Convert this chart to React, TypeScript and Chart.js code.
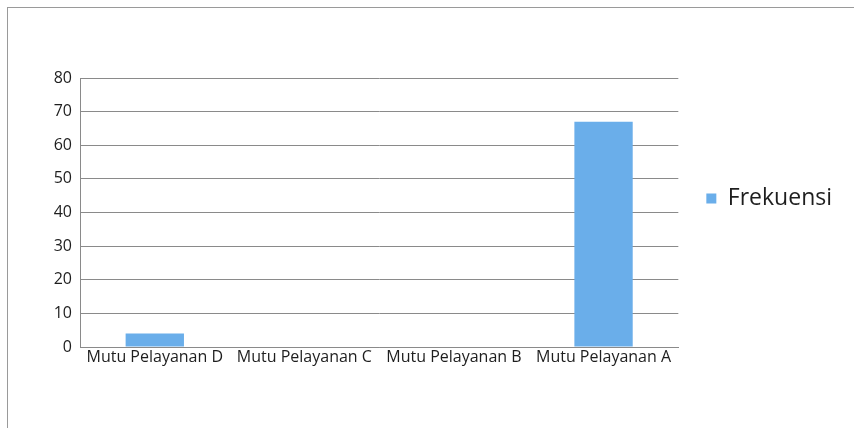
import React, { useEffect, useRef } from "react";
import { Chart, registerables } from "chart.js";

Chart.register(...registerables);

const categories = ["Mutu Pelayanan D", "Mutu Pelayanan C", "Mutu Pelayanan B", "Mutu Pelayanan A"];
const frekuensi = [4, 0, 0, 67];
const seriesName = "Frekuensi";
const yMin = 0;
const yMax = 80;
const yStep = 10;

const FONT = "'Open Sans', 'Noto Sans', sans-serif";

const legendShift = {
  id: "legendShift",
  afterLayout(chart: any) {
    const lg = chart.legend;
    if (lg) {
      lg.top -= 24;
      lg.bottom -= 24;
    }
  },
};

export default function App() {
  const ref = useRef<HTMLCanvasElement | null>(null);

  useEffect(() => {
    document.body.style.margin = "0";
    const canvas = ref.current;
    if (!canvas) return;
    const chart = new Chart(canvas, {
      type: "bar",
      data: {
        labels: categories,
        datasets: [
          {
            label: seriesName,
            data: frekuensi,
            backgroundColor: "#6aaeea",
            borderWidth: 0,
            barPercentage: 0.39,
            categoryPercentage: 1,
          },
        ],
      },
      plugins: [legendShift],
      options: {
        animation: false,
        responsive: false,
        devicePixelRatio: 1,
        layout: { padding: { left: 0, top: 78, right: 12, bottom: 29 } },
        plugins: {
          tooltip: { enabled: false },
          legend: {
            position: "right",
            labels: {
              padding: 28,
              boxWidth: 10,
              boxHeight: 10,
              color: "#1e1e1e",
              font: { family: FONT, size: 23 },
            },
          },
        },
        scales: {
          x: {
            grid: { display: false, drawTicks: false },
            border: { display: true, color: "#8a8a8a", width: 1 },
            ticks: {
              color: "#1e1e1e",
              font: { family: FONT, size: 16 },
              padding: 1,
              maxRotation: 0,
              autoSkip: false,
            },
            afterFit: (s: any) => {
              s.height = 20;
            },
          },
          y: {
            min: yMin,
            max: yMax,
            ticks: {
              stepSize: yStep,
              color: "#1e1e1e",
              font: { family: FONT, size: 16 },
              padding: 8,
            },
            grid: { color: "#8a8a8a", lineWidth: 1, drawTicks: false },
            border: { display: true, color: "#8a8a8a", width: 1 },
            afterFit: (s: any) => {
              s.width = 80;
            },
          },
        },
      },
    });
    return () => chart.destroy();
  }, []);

  return (
    <div style={{ position: "relative", width: 854, height: 428, overflow: "hidden", background: "#fff" }}>
      <div
        style={{
          position: "absolute",
          left: 7,
          top: 7,
          width: 1000,
          height: 1000,
          border: "1px solid #9a9a9a",
        }}
      />
      <canvas
        ref={ref}
        width={854}
        height={396}
        style={{ position: "absolute", left: 0, top: 0, width: 854, height: 396 }}
      />
    </div>
  );
}
